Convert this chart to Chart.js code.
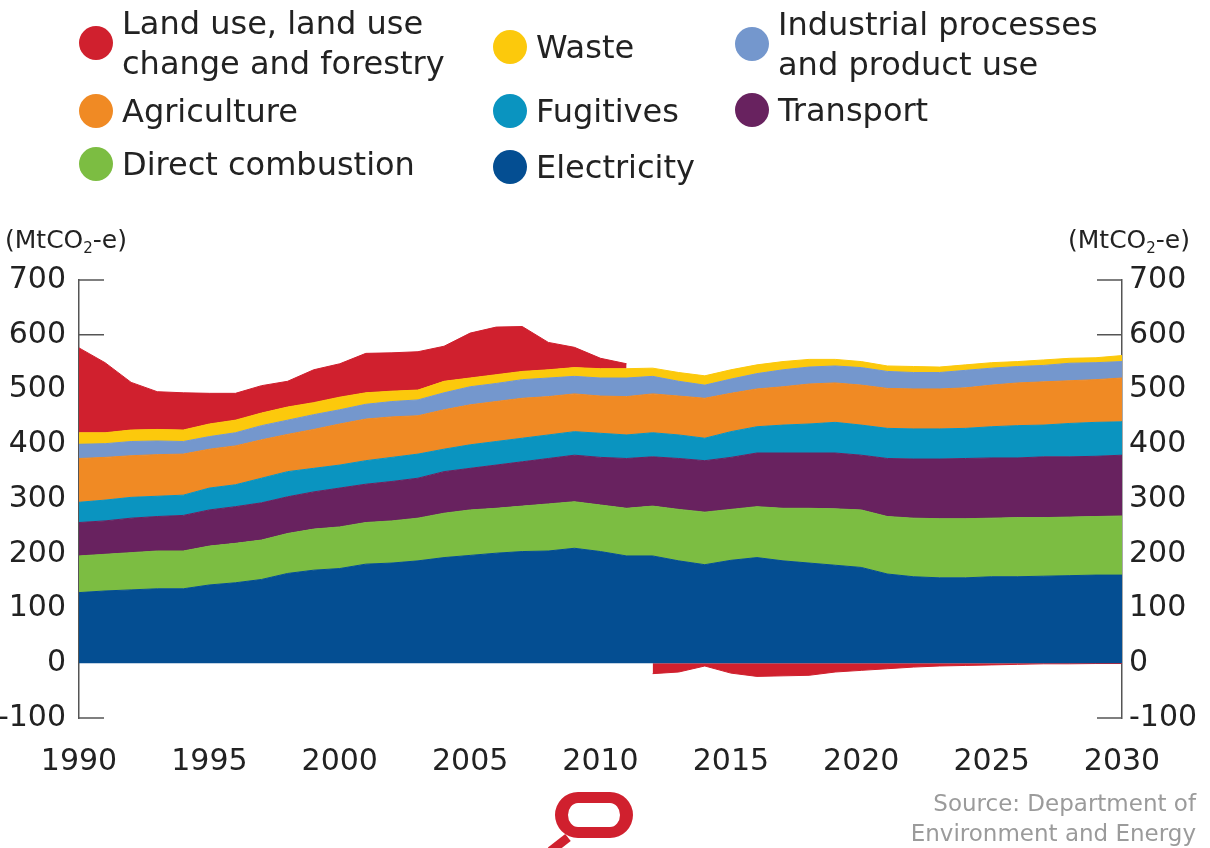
<!DOCTYPE html>
<html>
<head>
<meta charset="utf-8">
<script src="https://cdn.jsdelivr.net/npm/chart.js@4.4.1/dist/chart.umd.min.js"></script>
<style>
html,body{margin:0;padding:0;background:#fff;}
body{width:1210px;height:848px;position:relative;overflow:hidden;font-family:"DejaVu Sans",sans-serif;color:#222;}
#chart{position:absolute;left:0;top:0;}
.leg{position:absolute;display:flex;align-items:center;font-size:32px;line-height:40px;white-space:pre-line;}
.dot{width:34px;height:34px;border-radius:50%;margin-right:9px;flex:none;}
.unit{position:absolute;font-size:25px;top:225px;line-height:30px;}
.unit sub{font-size:15px;vertical-align:-5px;}
.src{position:absolute;right:14px;top:788px;font-size:23px;line-height:30px;color:#9b9b9b;text-align:right;}
.logo{position:absolute;left:555px;top:792px;width:52px;height:24px;border-style:solid;border-color:#d0202e;border-width:11px 13px;border-radius:24px;}
.tail{position:absolute;left:546px;top:833px;width:22px;height:9px;background:#d0202e;transform:rotate(-38deg);transform-origin:right center;}
</style>
</head>
<body>
<canvas id="chart" width="1210" height="848"></canvas>
<div id="legend"></div>
<div class="unit" style="left:5px">(MtCO<sub>2</sub>-e)</div>
<div class="unit" style="right:20px">(MtCO<sub>2</sub>-e)</div>
<div class="src">Source: Department of<br>Environment and Energy</div>
<div class="tail"></div>
<div class="logo"></div>
<script>
// ---- Data ----
const years = [1990,1991,1992,1993,1994,1995,1996,1997,1998,1999,2000,2001,2002,2003,2004,2005,2006,2007,2008,2009,2010,2011,2012,2013,2014,2015,2016,2017,2018,2019,2020,2021,2022,2023,2024,2025,2026,2027,2028,2029,2030];
const xTickLabels = ['1990','1995','2000','2005','2010','2015','2020','2025','2030'];
const yTickValues = [-100,0,100,200,300,400,500,600,700];

const electricity = [129,132,134,136,136,143,147,153,164,170,173,181,183,187,193,197,201,204,205,210,204,196,196,187,180,188,193,187,183,179,175,163,158,156,156,158,158,159,160,161,161];
const directCombustion = [67,67,68,69,69,71,72,72,73,75,76,76,77,78,81,83,82,83,86,85,85,87,91,94,96,93,93,96,100,103,105,105,107,108,108,107,108,107,107,107,108];
const transport = [61,61,63,63,65,66,67,68,67,68,71,70,72,73,76,76,79,81,83,85,87,91,90,93,94,95,98,101,101,102,100,106,108,109,110,110,109,111,110,110,111];
const fugitives = [37,38,38,37,37,40,40,45,46,43,42,43,44,44,41,43,43,43,43,43,44,43,44,43,41,47,48,51,53,56,55,55,55,55,55,57,59,58,61,62,61];
const agriculture = [80,78,76,76,75,71,71,70,68,71,75,76,74,70,72,73,73,73,70,69,68,70,71,71,73,70,69,70,73,72,73,73,73,73,74,76,78,79,78,78,80];
const industrial = [26,25,26,25,23,23,24,26,26,27,26,27,28,29,31,33,33,34,34,32,33,34,32,27,24,26,28,31,31,31,32,31,30,30,32,31,30,30,32,31,30];
const waste = [21,20,21,21,21,23,23,23,24,22,23,21,19,18,21,16,16,15,15,16,17,17,15,16,17,17,16,15,14,12,11,10,11,10,10,10,9,10,9,9,11];
const landUsePositive = [155,128,87,69,68,56,49,50,47,60,61,72,70,70,64,82,87,82,50,37,19,9,null,null,null,null,null,null,null,null,null,null,null,null,null,null,null,null,null,null,null];
const landUseNegative = [null,null,null,null,null,null,null,null,null,null,null,null,null,null,null,null,null,null,null,null,null,null,-19,-16,-5,-18,-24,-23,-22,-16,-13,-10,-7,-5,-4,-3,-2,-1,-1,-0.5,-0.5];

const names = {
  landUse: 'Land use, land use\nchange and forestry',
  waste: 'Waste',
  industrial: 'Industrial processes\nand product use',
  agriculture: 'Agriculture',
  fugitives: 'Fugitives',
  transport: 'Transport',
  direct: 'Direct combustion',
  electricity: 'Electricity'
};
const colors = {
  landUse: '#d0202e',
  waste: '#fcc90c',
  industrial: '#7497cd',
  agriculture: '#f08a24',
  fugitives: '#0a94c0',
  transport: '#68225f',
  direct: '#7cbd42',
  electricity: '#044e92'
};

// ---- Legend (HTML) ----
const legendLayout = [
  ['landUse', 79, 3], ['waste', 493, 27], ['industrial', 735, 4],
  ['agriculture', 79, 91], ['fugitives', 493, 91], ['transport', 735, 90],
  ['direct', 79, 144], ['electricity', 493, 147]
];
const legendEl = document.getElementById('legend');
legendLayout.forEach(([key, l, t]) => {
  const d = document.createElement('div');
  d.className = 'leg';
  d.style.left = l + 'px';
  d.style.top = t + 'px';
  const dot = document.createElement('span');
  dot.className = 'dot';
  dot.style.background = colors[key];
  const tx = document.createElement('span');
  tx.textContent = names[key];
  d.appendChild(dot); d.appendChild(tx);
  legendEl.appendChild(d);
});

// ---- Chart ----
function ds(label, data, key, fill) {
  return {
    label, data, fill,
    backgroundColor: colors[key],
    borderColor: colors[key],
    borderWidth: 1,
    pointRadius: 0,
    tension: 0,
    yAxisID: 'y'
  };
}

const axisTicks = {
  id: 'axisTicks',
  beforeDatasetsDraw(chart) {
    const {ctx, chartArea, scales} = chart;
    const y = scales.y;
    ctx.save();
    ctx.strokeStyle = '#555';
    ctx.lineWidth = 1.5;
    y.ticks.forEach(t => {
      if (t.value === 0) return;
      const py = y.getPixelForValue(t.value);
      ctx.beginPath();
      ctx.moveTo(chartArea.left, py); ctx.lineTo(chartArea.left + 25, py);
      ctx.moveTo(chartArea.right - 25, py); ctx.lineTo(chartArea.right, py);
      ctx.stroke();
    });
    ctx.restore();
  }
};

const tickFont = {family: '"DejaVu Sans", sans-serif', size: 30};

new Chart(document.getElementById('chart'), {
  type: 'line',
  data: {
    labels: years.map(String),
    datasets: [
      ds('Electricity', electricity, 'electricity', 'origin'),
      ds('Direct combustion', directCombustion, 'direct', '-1'),
      ds('Transport', transport, 'transport', '-1'),
      ds('Fugitives', fugitives, 'fugitives', '-1'),
      ds('Agriculture', agriculture, 'agriculture', '-1'),
      ds('Industrial processes and product use', industrial, 'industrial', '-1'),
      ds('Waste', waste, 'waste', '-1'),
      ds('Land use, land use change and forestry', landUsePositive, 'landUse', '-1'),
      ds('Land use, land use change and forestry (net sink)', landUseNegative, 'landUse', 'origin')
    ]
  },
  options: {
    responsive: false,
    animation: false,
    devicePixelRatio: 1,
    layout: {padding: {top: 280, left: 0, right: 0, bottom: 0}},
    plugins: {legend: {display: false}, tooltip: {enabled: false}},
    scales: {
      x: {
        offset: false,
        grid: {display: false, drawTicks: false},
        border: {display: false},
        ticks: {
          autoSkip: false, maxRotation: 0, padding: 26,
          color: '#222', font: tickFont,
          callback: function(v) {
            const lab = this.getLabelForValue(v);
            return xTickLabels.includes(lab) ? lab : '';
          }
        },
        afterFit: s => { s.height = 130; }
      },
      y: {
        stacked: true,
        min: -100, max: 700,
        position: 'left',
        grid: {display: false, drawTicks: false},
        border: {display: true, color: '#555', width: 1.5},
        afterBuildTicks: s => { s.ticks = yTickValues.map(v => ({value: v})); },
        ticks: {padding: 13, color: '#222', font: tickFont},
        afterFit: s => { s.width = 79; }
      },
      y2: {
        min: -100, max: 700,
        position: 'right',
        grid: {display: false, drawTicks: false},
        border: {display: true, color: '#555', width: 1.5},
        afterBuildTicks: s => { s.ticks = yTickValues.map(v => ({value: v})); },
        ticks: {padding: 7, color: '#222', font: tickFont},
        afterFit: s => { s.width = 88; }
      }
    }
  },
  plugins: [axisTicks]
});
</script>
</body>
</html>
